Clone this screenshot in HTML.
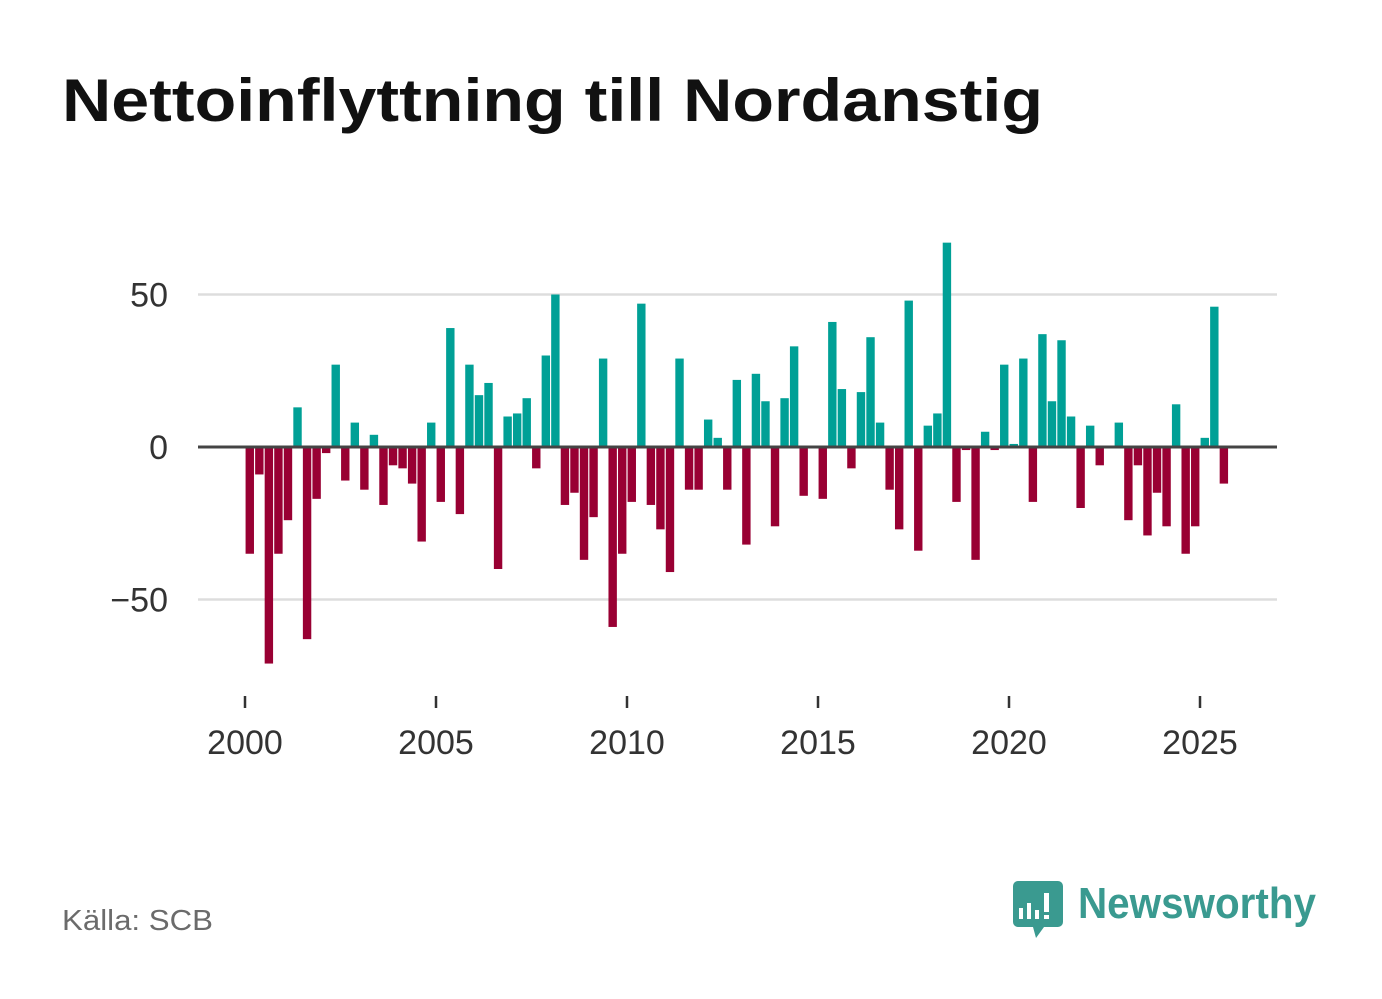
<!DOCTYPE html>
<html><head><meta charset="utf-8"><style>
body{margin:0;background:#fff;font-family:"Liberation Sans","DejaVu Sans",sans-serif}
svg{display:block}
</style></head><body>
<svg width="1382" height="999" xmlns="http://www.w3.org/2000/svg">
<text x="62" y="121" font-size="60" font-weight="bold" fill="#111" textLength="981" lengthAdjust="spacingAndGlyphs">Nettoinflyttning till Nordanstig</text>
<g id="grid"></g><g id="bars"></g><g id="axes"></g>
<text x="62" y="930" font-size="29" fill="#6b6b6b" textLength="151" lengthAdjust="spacingAndGlyphs">Källa: SCB</text>
<g>
<path d="M1018 881 h40 a5 5 0 0 1 5 5 v36 a5 5 0 0 1 -5 5 h-14 l-8 11 l-3 -11 h-15 a5 5 0 0 1 -5 -5 v-36 a5 5 0 0 1 5 -5z" fill="#3a9a90"/>
<rect x="1019" y="908" width="4" height="11" fill="#fff"/><rect x="1027" y="903" width="4" height="16" fill="#fff"/><rect x="1035" y="910" width="4" height="9" fill="#fff"/><rect x="1044" y="893" width="5" height="19" fill="#fff"/><rect x="1044" y="915" width="5" height="4" fill="#fff"/>
<text x="1078" y="918" font-size="44" font-weight="bold" fill="#3a9a90" textLength="238" lengthAdjust="spacingAndGlyphs">Newsworthy</text>
</g>
</svg>
<script>
const values=[-35,-9,-71,-35,-24,13,-63,-17,-2,27,-11,8,-14,4,-19,-6,-7,-12,-31,8,-18,39,-22,27,17,21,-40,10,11,16,-7,30,50,-19,-15,-37,-23,29,-59,-35,-18,47,-19,-27,-41,29,-14,-14,9,3,-14,22,-32,24,15,-26,16,33,-16,0,-17,41,19,-7,18,36,8,-14,-27,48,-34,7,11,67,-18,-1,-37,5,-1,27,1,29,-18,37,15,35,10,-20,7,-6,0,8,-24,-6,-29,-15,-26,14,-35,-26,3,46,-12];
const startYear=2000;
const yTicks=[50,0,-50];
const yTickLabels=["50","0","\u221250"];
const xTicks=[2000,2005,2010,2015,2020,2025];
const NS="http://www.w3.org/2000/svg";
const y=v=>447-v*3.05;
const x=t=>245+(t-2000)*38.2;
function mk(tag,attrs,parent){const e=document.createElementNS(NS,tag);for(const k in attrs)e.setAttribute(k,attrs[k]);parent.appendChild(e);return e;}
const grid=document.getElementById('grid'),bars=document.getElementById('bars'),axes=document.getElementById('axes');
yTicks.forEach((v,i)=>{
 if(v!==0){const l=mk('line',{x1:198,x2:1277,y1:y(v),y2:y(v),stroke:'#dddddd','stroke-width':2.5},grid);
 
 }
 const t=mk('text',{x:168,y:y(v)+12,'font-size':34,fill:'#333','text-anchor':'end'},axes);t.textContent=yTickLabels[i];
 
 
});
values.forEach((v,i)=>{
 const cx=x(startYear+i/4+0.125);
 const r=mk('rect',{x:cx-4.2,width:8.4,y:v>=0?y(v):y(0),height:Math.abs(y(v)-y(0)),fill:v>=0?'#00a096':'#990033'},bars);
 
 
});
const zl=mk('line',{x1:198,x2:1277,y1:y(0),y2:y(0),stroke:'#444','stroke-width':3},axes);


xTicks.forEach(yr=>{
 const tk=mk('line',{x1:x(yr),x2:x(yr),y1:696,y2:708,stroke:'#333','stroke-width':2.5},axes);
 
 
 const t=mk('text',{x:x(yr),y:754,'font-size':34,fill:'#333','text-anchor':'middle'},axes);t.textContent=yr;
 
 
});
</script>
</body></html>
